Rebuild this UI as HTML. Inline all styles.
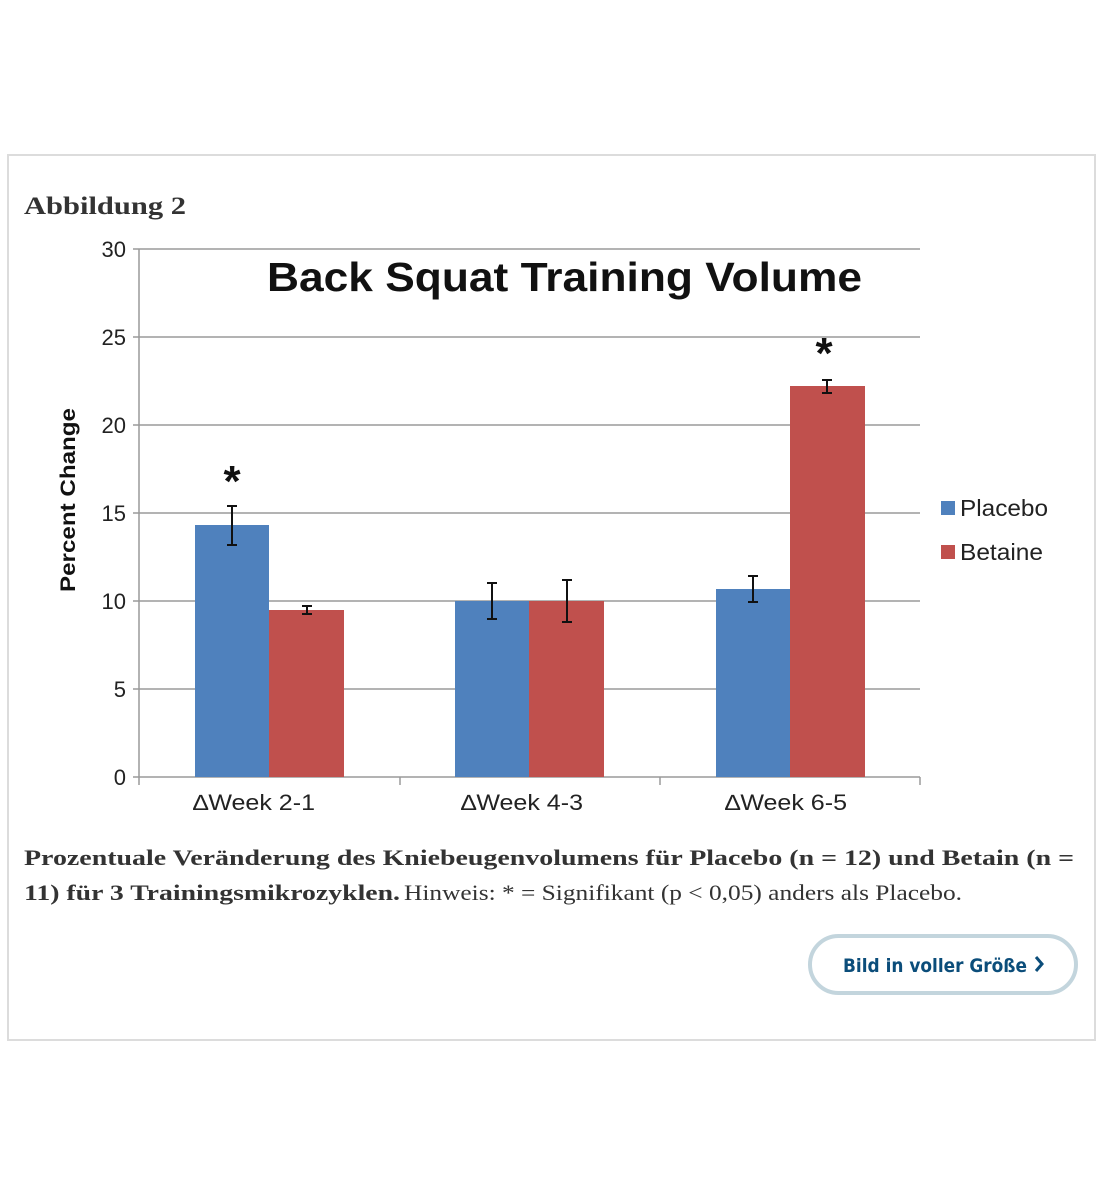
<!DOCTYPE html>
<html><head><meta charset="utf-8"><style>html,body{margin:0;padding:0;background:#fff}svg{display:block}</style></head>
<body>
<svg width="1100" height="1200" xmlns="http://www.w3.org/2000/svg">
<rect x="8" y="155" width="1087" height="885" fill="#fff" stroke="#dcdcdc" stroke-width="2"/>
<text x="24" y="214" font-family="Liberation Serif, serif" font-weight="bold" font-size="25" fill="#333" textLength="162" lengthAdjust="spacingAndGlyphs">Abbildung 2</text>
<g stroke="#9a9a9a" stroke-width="1.5">
<line x1="133" y1="249" x2="920" y2="249"/>
<line x1="133" y1="337" x2="920" y2="337"/>
<line x1="133" y1="425" x2="920" y2="425"/>
<line x1="133" y1="513" x2="920" y2="513"/>
<line x1="133" y1="601" x2="920" y2="601"/>
<line x1="133" y1="689" x2="920" y2="689"/>
<line x1="133" y1="777" x2="920" y2="777"/>
<line x1="139" y1="249" x2="139" y2="785"/>
<line x1="400" y1="777" x2="400" y2="785"/>
<line x1="660" y1="777" x2="660" y2="785"/>
<line x1="920" y1="777" x2="920" y2="785"/>
</g>
<g font-family="Liberation Sans, sans-serif" font-size="22" fill="#222" text-anchor="end">
<text x="126" y="257">30</text><text x="126" y="345">25</text><text x="126" y="433">20</text>
<text x="126" y="521">15</text><text x="126" y="609">10</text><text x="126" y="697">5</text><text x="126" y="785">0</text>
</g>
<text transform="translate(75,500) rotate(-90)" text-anchor="middle" font-family="Liberation Sans, sans-serif" font-weight="bold" font-size="21" fill="#111" textLength="184" lengthAdjust="spacingAndGlyphs">Percent Change</text>
<text x="267" y="291" font-family="Liberation Sans, sans-serif" font-weight="bold" font-size="41" fill="#111" textLength="595" lengthAdjust="spacingAndGlyphs">Back Squat Training Volume</text>
<g fill="#4f81bd">
<rect x="195" y="525" width="74" height="252"/>
<rect x="455" y="601" width="74" height="176"/>
<rect x="716" y="589" width="74" height="188"/>
</g>
<g fill="#c0504d">
<rect x="269" y="610" width="75" height="167"/>
<rect x="529" y="601" width="75" height="176"/>
<rect x="790" y="386" width="75" height="391"/>
</g>
<g stroke="#111" stroke-width="2">
<path d="M232 506V545M227 506h10M227 545h10"/>
<path d="M307 606V614M302 606h10M302 614h10"/>
<path d="M492 583V619M487 583h10M487 619h10"/>
<path d="M567 580V622M562 580h10M562 622h10"/>
<path d="M753 576V602M748 576h10M748 602h10"/>
<path d="M827 380V393M822 380h10M822 393h10"/>
</g>
<g font-family="Liberation Sans, sans-serif" font-weight="bold" font-size="44" fill="#111" text-anchor="middle">
<text x="232" y="496">*</text><text x="824" y="368">*</text>
</g>
<g font-family="Liberation Sans, sans-serif" font-size="22" fill="#222">
<text x="193" y="810" textLength="122" lengthAdjust="spacingAndGlyphs">∆Week 2-1</text>
<text x="461" y="810" textLength="122" lengthAdjust="spacingAndGlyphs">∆Week 4-3</text>
<text x="725" y="810" textLength="122" lengthAdjust="spacingAndGlyphs">∆Week 6-5</text>
</g>
<rect x="941" y="501" width="14" height="14" fill="#4f81bd"/>
<rect x="941" y="545" width="14" height="14" fill="#c0504d"/>
<g font-family="Liberation Sans, sans-serif" font-size="23" fill="#222">
<text x="960" y="516" textLength="88" lengthAdjust="spacingAndGlyphs">Placebo</text><text x="960" y="560" textLength="83" lengthAdjust="spacingAndGlyphs">Betaine</text>
</g>
<g font-family="Liberation Serif, serif" font-size="22" fill="#333">
<text x="24" y="865" font-weight="bold" textLength="1050" lengthAdjust="spacingAndGlyphs">Prozentuale Veränderung des Kniebeugenvolumens für Placebo (n = 12) und Betain (n =</text>
<text x="24" y="900" font-weight="bold" textLength="376" lengthAdjust="spacingAndGlyphs">11) für 3 Trainingsmikrozyklen.</text>
<text x="404" y="900" textLength="558" lengthAdjust="spacingAndGlyphs">Hinweis: * = Signifikant (p &lt; 0,05) anders als Placebo.</text>
</g>
<rect x="810" y="936" width="266" height="57" rx="28.5" fill="#fff" stroke="#c3d5dd" stroke-width="4"/>
<text x="843" y="972" font-family="DejaVu Sans, sans-serif" font-weight="bold" font-size="19" fill="#0b4d7a" textLength="184" lengthAdjust="spacingAndGlyphs">Bild in voller Größe</text>
<path d="M1036 957l6 7-6 7" fill="none" stroke="#0b4d7a" stroke-width="3"/>
</svg>
</body></html>
